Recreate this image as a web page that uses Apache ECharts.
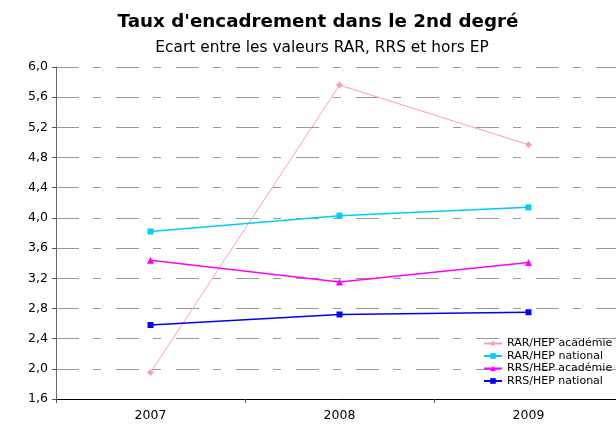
<!DOCTYPE html>
<html>
<head>
<meta charset="utf-8">
<script src="https://cdn.jsdelivr.net/npm/echarts@6/dist/echarts.min.js"></script>
<style>
  html, body { margin: 0; padding: 0; background: #fff; }
  #chart { width: 616px; height: 425px; }
</style>
</head>
<body>
<div id="chart"></div>
<script>
// annees et valeurs
var annees = ['2007', '2008', '2009'];
var rarHepAcademie = [1.95, 5.76, 4.97];
var rarHepNational = [3.82, 4.03, 4.14];
var rrsHepAcademie = [3.44, 3.15, 3.41];
var rrsHepNational = [2.58, 2.72, 2.75];

var police = 'DejaVu Sans, Arial, sans-serif';

function serie(nom, data, couleur, symbole, taille, largeur) {
    return {
        name: nom,
        type: 'line',
        data: data,
        symbol: symbole,
        symbolSize: taille,
        showSymbol: true,
        lineStyle: { color: couleur, width: largeur },
        itemStyle: { color: couleur },
        animation: false
    };
}

var option = {
    backgroundColor: '#ffffff',
    title: [{
        text: "Taux d'encadrement dans le 2nd degré",
        left: 313,
        top: 8,
        textAlign: 'center',
        textStyle: { fontFamily: police, fontSize: 18.3, fontWeight: 'bold', color: '#000' }
    }, {
        text: 'Ecart entre les valeurs RAR, RRS et hors EP',
        left: 317,
        top: 35,
        textAlign: 'center',
        textStyle: { fontFamily: police, fontSize: 15.4, fontWeight: 'normal', color: '#000' }
    }],
    legend: {
        orient: 'vertical',
        left: 483,
        top: 338,
        padding: 0,
        itemWidth: 18,
        itemHeight: 7,
        itemGap: 1.5,
        textStyle: { fontFamily: police, fontSize: 11, color: '#000' },
        data: ['RAR/HEP académie', 'RAR/HEP national', 'RRS/HEP académie', 'RRS/HEP national']
    },
    grid: { left: 56, width: 567, top: 67, bottom: 26, containLabel: false, outerBoundsMode: 'none' },
    xAxis: {
        type: 'category',
        data: annees,
        boundaryGap: true,
        axisLine: { lineStyle: { color: '#000', width: 1 } },
        axisTick: { show: true, length: 4, lineStyle: { color: '#555' } },
        axisLabel: { fontFamily: police, fontSize: 12.5, color: '#000', margin: 10 },
        splitLine: { show: false }
    },
    yAxis: {
        type: 'value',
        min: 1.6,
        max: 6.0,
        interval: 0.4,
        axisLine: { show: true, lineStyle: { color: '#666', width: 1 } },
        axisTick: { show: true, length: 4, lineStyle: { color: '#555' } },
        axisLabel: {
            fontFamily: police, fontSize: 12.5, color: '#000', margin: 8,
            formatter: function (v) { return v.toFixed(1).replace('.', ','); }
        },
        splitLine: {
            show: true,
            lineStyle: { color: '#999', width: 1, type: [23, 14, 8, 15] }
        }
    },
    series: [
        serie('RAR/HEP académie', rarHepAcademie, '#FF99CC', 'diamond', 7, 1),
        serie('RAR/HEP national', rarHepNational, '#00CCFF', 'rect', 6, 1.5),
        serie('RRS/HEP académie', rrsHepAcademie, '#FF00FF', 'triangle', 7, 1.5),
        serie('RRS/HEP national', rrsHepNational, '#0000FF', 'rect', 6, 1.5)
    ]
};

var myChart = echarts.init(document.getElementById('chart'));
myChart.setOption(option);
</script>
</body>
</html>
